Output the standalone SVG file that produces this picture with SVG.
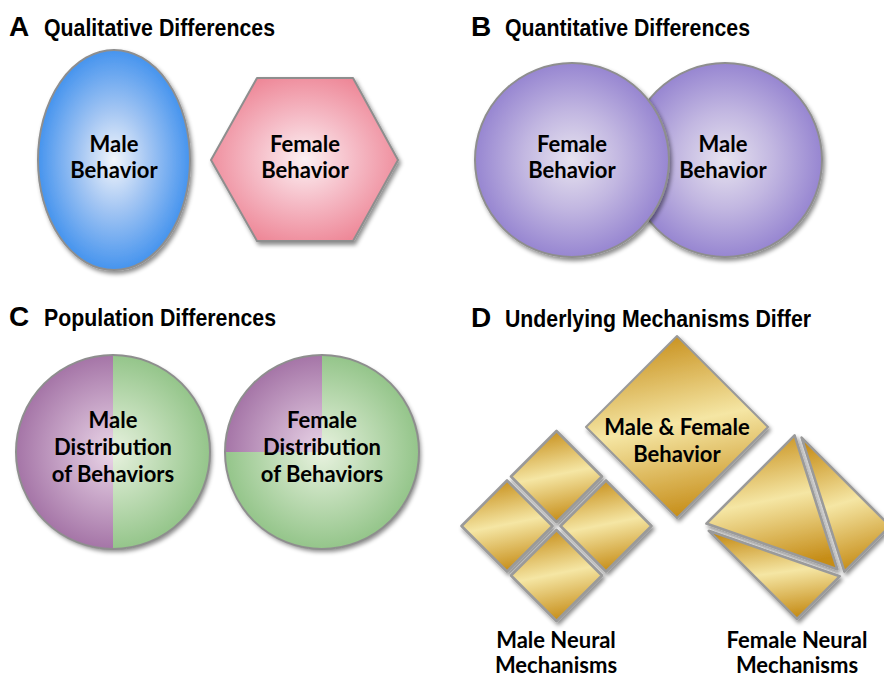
<svg xmlns="http://www.w3.org/2000/svg" width="884" height="677" viewBox="0 0 884 677">
  <defs>
    <style>
      .panel-letter { font-family: "Liberation Sans", Arial, sans-serif; font-weight: 700; font-size: 28px; fill: #000; }
      .panel-title { font-family: "Liberation Sans", Arial, sans-serif; font-weight: 700; font-size: 24px; fill: #000; }
      .label { font-family: Lato, "Noto Sans", sans-serif; font-weight: 700; font-size: 22px; fill: #000; text-anchor: middle; }
      .edge { stroke: #8e8e8e; stroke-width: 2; }
      .gold { fill: url(#goldGrad); stroke: #9a9a9a; stroke-width: 2; stroke-linejoin: round; }
      .piece { stroke-width: 2.6; }
    </style>
    <filter id="shadow" x="-10%" y="-10%" width="125%" height="125%">
      <feDropShadow dx="2" dy="3" stdDeviation="2" flood-color="#000" flood-opacity="0.45"/>
    </filter>
    <radialGradient id="blueGrad" cx="0.5" cy="0.5" r="0.5">
      <stop offset="0" stop-color="#f1f5fb"/>
      <stop offset="0.45" stop-color="#a4c6f3"/>
      <stop offset="1" stop-color="#4694ee"/>
    </radialGradient>
    <radialGradient id="pinkGrad" cx="0.5" cy="0.5" r="0.55">
      <stop offset="0" stop-color="#fcf0f2"/>
      <stop offset="0.5" stop-color="#f5bac5"/>
      <stop offset="1" stop-color="#ee8797"/>
    </radialGradient>
    <radialGradient id="violetGrad" cx="0.5" cy="0.5" r="0.5">
      <stop offset="0" stop-color="#e6e2ef"/>
      <stop offset="0.5" stop-color="#c2b7e1"/>
      <stop offset="1" stop-color="#9786d1"/>
    </radialGradient>
    <radialGradient id="plumL" gradientUnits="userSpaceOnUse" cx="113" cy="452" r="97">
      <stop offset="0" stop-color="#ead6e8"/>
      <stop offset="1" stop-color="#a575a7"/>
    </radialGradient>
    <radialGradient id="sageL" gradientUnits="userSpaceOnUse" cx="113" cy="452" r="97">
      <stop offset="0" stop-color="#e8f2df"/>
      <stop offset="1" stop-color="#94c58a"/>
    </radialGradient>
    <radialGradient id="plumR" gradientUnits="userSpaceOnUse" cx="322" cy="452" r="97">
      <stop offset="0" stop-color="#ead6e8"/>
      <stop offset="1" stop-color="#a575a7"/>
    </radialGradient>
    <radialGradient id="sageR" gradientUnits="userSpaceOnUse" cx="322" cy="452" r="97">
      <stop offset="0" stop-color="#e8f2df"/>
      <stop offset="1" stop-color="#94c58a"/>
    </radialGradient>
    <linearGradient id="goldGrad" x1="0.3" y1="0" x2="0.5" y2="1">
      <stop offset="0" stop-color="#c68d18"/>
      <stop offset="0.5" stop-color="#f5e6a4"/>
      <stop offset="1" stop-color="#c68d18"/>
    </linearGradient>
  </defs>

  <rect width="884" height="677" fill="#ffffff"/>

  <!-- Panel headings -->
  <g id="headings">
    <text class="panel-letter" x="9" y="36">A</text>
    <text class="panel-title" x="44" y="36" textLength="231" lengthAdjust="spacingAndGlyphs">Qualitative Differences</text>
    <text class="panel-letter" x="471" y="36">B</text>
    <text class="panel-title" x="505" y="36" textLength="245" lengthAdjust="spacingAndGlyphs">Quantitative Differences</text>
    <text class="panel-letter" x="9" y="326">C</text>
    <text class="panel-title" x="44" y="326" textLength="232" lengthAdjust="spacingAndGlyphs">Population Differences</text>
    <text class="panel-letter" x="471" y="327">D</text>
    <text class="panel-title" x="505" y="327" textLength="306" lengthAdjust="spacingAndGlyphs">Underlying Mechanisms Differ</text>
  </g>

  <!-- A: qualitative -->
  <g id="a-male">
    <ellipse cx="114" cy="160" rx="76" ry="110" fill="url(#blueGrad)" class="edge" filter="url(#shadow)"/>
    <text class="label" x="114" y="152">Male</text>
    <text class="label" x="114" y="178">Behavior</text>
  </g>
  <g id="a-female">
    <polygon points="211,160 257,78 353,78 398,160 353,241 257,241" fill="url(#pinkGrad)" class="edge" stroke-linejoin="round" filter="url(#shadow)"/>
    <text class="label" x="305" y="152">Female</text>
    <text class="label" x="305" y="178">Behavior</text>
  </g>

  <!-- B: quantitative (overlapping) -->
  <g id="b-male">
    <circle cx="725" cy="160" r="97" fill="url(#violetGrad)" class="edge" filter="url(#shadow)"/>
    <text class="label" x="723" y="152">Male</text>
    <text class="label" x="723" y="178">Behavior</text>
  </g>
  <g id="b-female">
    <circle cx="572" cy="160" r="97" fill="url(#violetGrad)" class="edge" filter="url(#shadow)"/>
    <text class="label" x="572" y="152">Female</text>
    <text class="label" x="572" y="178">Behavior</text>
  </g>

  <!-- C: population split pies -->
  <g id="c-male">
    <circle cx="113" cy="452" r="97" fill="#ffffff" filter="url(#shadow)"/>
    <path d="M113,355 A97,97 0 0 0 113,549 Z" fill="url(#plumL)"/>
    <path d="M113,355 A97,97 0 0 1 113,549 Z" fill="url(#sageL)"/>
    <circle cx="113" cy="452" r="97" fill="none" class="edge"/>
    <text class="label" x="113" y="428">Male</text>
    <text class="label" x="113" y="455">Distribution</text>
    <text class="label" x="113" y="482">of Behaviors</text>
  </g>
  <g id="c-female">
    <circle cx="322" cy="452" r="97" fill="#ffffff" filter="url(#shadow)"/>
    <path d="M322,452 L322,355 A97,97 0 0 0 225,452 Z" fill="url(#plumR)"/>
    <path d="M322,452 L225,452 A97,97 0 1 0 322,355 Z" fill="url(#sageR)"/>
    <circle cx="322" cy="452" r="97" fill="none" class="edge"/>
    <text class="label" x="322" y="428">Female</text>
    <text class="label" x="322" y="455">Distribution</text>
    <text class="label" x="322" y="482">of Behaviors</text>
  </g>

  <!-- D: shared behaviour, different mechanisms -->
  <g id="d-behavior">
    <polygon class="gold" points="677,336 768,427 677,518 586,427" filter="url(#shadow)"/>
    <text class="label" x="677" y="435">Male &amp; Female</text>
    <text class="label" x="677" y="462">Behavior</text>
  </g>
  <g id="d-male-mechanisms" filter="url(#shadow)">
    <polygon class="gold piece" points="556.5,431 602,476.5 556.5,522 511,476.5"/>
    <polygon class="gold piece" points="507,480.5 552.5,526 507,571.5 461.5,526"/>
    <polygon class="gold piece" points="606,480.5 651.5,526 606,571.5 560.5,526"/>
    <polygon class="gold piece" points="556.5,530 602,575.5 556.5,621 511,575.5"/>
  </g>
  <g id="d-male-label">
    <text class="label" x="556" y="648">Male Neural</text>
    <text class="label" x="556" y="673">Mechanisms</text>
  </g>
  <g id="d-female-mechanisms" filter="url(#shadow)">
    <polygon class="gold piece" points="706.4,523.6 794.6,435.4 837.3,569.2"/>
    <polygon class="gold piece" points="801.6,437.6 890,526 844.4,571.6"/>
    <polygon class="gold piece" points="708.8,530.8 839.7,576.3 797,619"/>
  </g>
  <g id="d-female-label">
    <text class="label" x="797" y="648">Female Neural</text>
    <text class="label" x="797" y="673">Mechanisms</text>
  </g>
</svg>
